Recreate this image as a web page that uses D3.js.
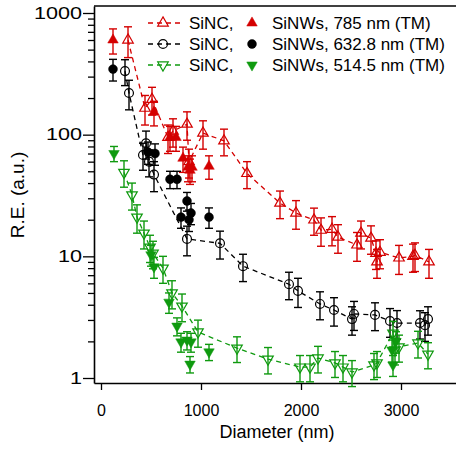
<!DOCTYPE html>
<html>
<head>
<meta charset="utf-8">
<script src="https://cdn.jsdelivr.net/npm/d3@7"></script>
<style>
  body { margin: 0; background: #fff; }
  svg text { font-family: "Liberation Sans", Arial, Helvetica, sans-serif; fill: #000; }
</style>
</head>
<body>
<script>
// SiNC 785 nm (open up-triangles, red)
const redOpenX = [270, 440, 510, 670, 720, 860, 880, 1020, 1230, 1460, 1790, 1950, 2130, 2200, 2310, 2370, 2560, 2600, 2700, 2750, 2760, 2790, 2980, 3120, 3140, 3280];
const redOpenY = [600, 165, 195, 95, 107, 122, 60, 103, 89, 48, 27.4, 22.7, 19.9, 16.4, 16.7, 14.4, 12.4, 15.5, 14.1, 10.6, 9.0, 10.8, 9.7, 10.0, 10.2, 9.0];
const redOpenErr = [170, 45, 50, 25, 28, 32, 16, 27, 22, 12, 7, 6, 5, 4.3, 4.5, 3.8, 3.3, 4, 3.7, 2.8, 2.4, 2.9, 2.6, 2.6, 2.7, 2.4];
// SiNWs 785 nm (filled up-triangles, red)
const redFillX = [120, 530, 690, 750, 820, 870, 890, 910, 1080];
const redFillY = [600, 153, 95, 95, 64, 54, 51, 54, 55];
const redFillErr = [140, 35, 22, 22, 15, 13, 12, 13, 12];

// SiNC 632.8 nm (open circles, black)
const blackOpenX = [240, 280, 420, 450, 480, 530, 860, 1190, 1420, 1880, 1970, 2190, 2330, 2510, 2530, 2740, 2890, 2960, 3190, 3240, 3270];
const blackOpenY = [333, 220, 68, 85, 60, 47, 13.9, 12.8, 8.3, 5.9, 5.2, 4.06, 3.62, 3.05, 3.36, 3.3, 2.94, 2.83, 2.83, 2.72, 3.05];
const blackOpenErr = [80, 60, 17, 22, 15, 13, 3.8, 3.3, 2.1, 1.5, 1.4, 1.05, 0.95, 0.8, 0.9, 0.85, 0.78, 0.75, 0.74, 0.72, 0.8];
// SiNWs 632.8 nm (filled circles, black)
const blackFillX = [120, 470, 540, 690, 760, 800, 860, 880, 900, 1080];
const blackFillY = [346, 72, 70, 43, 43, 21, 28.5, 20, 22.7, 21];
const blackFillErr = [70, 15, 14, 7, 7, 4, 5, 4, 4.5, 4];

// SiNC 514.5 nm (open down-triangles, green)
const greenOpenX = [230, 310, 360, 430, 490, 520, 620, 710, 810, 970, 1360, 1670, 1990, 2090, 2170, 2340, 2420, 2510, 2730, 2760, 2920, 2940, 2980, 3170, 3270];
const greenOpenY = [49, 32, 21, 15.5, 11.9, 10.6, 8.0, 5.0, 3.9, 2.39, 1.76, 1.43, 1.23, 1.23, 1.46, 1.33, 1.23, 1.12, 1.28, 1.33, 2.34, 1.70, 1.80, 1.94, 1.57];
const greenOpenErr = [12, 8, 5.5, 4, 3, 2.7, 2, 1.3, 1, 0.6, 0.42, 0.35, 0.3, 0.3, 0.36, 0.32, 0.3, 0.27, 0.31, 0.32, 0.58, 0.42, 0.45, 0.48, 0.38];
// SiNWs 514.5 nm (filled down-triangles, green)
const greenFillX = [130, 500, 530, 680, 760, 800, 860, 890, 900, 1080, 2910, 2920, 2950];
const greenFillY = [70, 10.3, 8.2, 4.2, 2.67, 1.98, 2.05, 1.30, 1.98, 1.64, 1.70, 1.28, 2.0];
const greenFillErr = [10, 2, 1.6, 0.8, 0.45, 0.35, 0.35, 0.2, 0.35, 0.25, 0.35, 0.25, 0.4];

const legendLabels = ["SiNWs, 785 nm (TM)", "SiNWs, 632.8 nm (TM)", "SiNWs, 514.5 nm (TM)"];
const xTicks = [0, 1000, 2000, 3000];
const yMajor = [1, 10, 100, 1000];

const RED = "#d40000", BLACK = "#000000", GREEN = "#0f9a0f";

const zip = (xs, ys, es) => xs.map((x, i) => ({ x, y: ys[i], e: es[i] }));

const series = [
  { open: zip(redOpenX, redOpenY, redOpenErr), fill: zip(redFillX, redFillY, redFillErr), color: RED, shape: "up" },
  { open: zip(blackOpenX, blackOpenY, blackOpenErr), fill: zip(blackFillX, blackFillY, blackFillErr), color: BLACK, shape: "circle" },
  { open: zip(greenOpenX, greenOpenY, greenOpenErr), fill: zip(greenFillX, greenFillY, greenFillErr), color: GREEN, shape: "down" }
];

const width = 456, height = 450;
const plotLeft = 94, plotRight = 456, plotTop = 6, plotBottom = 383;

const x = d3.scaleLinear().domain([0, 1000]).range([101, 201]);
x.domain([x.invert(plotLeft), x.invert(plotRight)]).range([plotLeft, plotRight]);

const y = d3.scaleLog().domain([1, 1000]).range([378, 13]);
y.domain([y.invert(plotBottom), y.invert(plotTop)]).range([plotBottom, plotTop]);

const svg = d3.select("body").append("svg")
  .attr("width", width)
  .attr("height", height);

// axes
const yTicks = [];
for (const d of [1, 10, 100]) for (let k = 1; k < 10; k++) yTicks.push(d * k);
yTicks.push(1000);

const yAxis = svg.append("g")
  .attr("transform", `translate(${plotLeft},0)`)
  .call(d3.axisLeft(y).tickValues(yTicks).tickSizeOuter(0).tickPadding(1)
    .tickFormat(d => yMajor.includes(d) ? d3.format("d")(d) : ""));
yAxis.selectAll(".tick line")
  .attr("x2", d => yMajor.includes(d) ? -11 : -6)
  .attr("stroke-width", 1.3);
// tick labels on this axis are drawn wide in the original
yAxis.selectAll(".tick text")
  .attr("x", -12 / 1.35)
  .attr("transform", "scale(1.35,1)")
  .style("font-size", "16px");
yAxis.select(".domain").attr("stroke-width", 1.6);

const xAxis = svg.append("g")
  .attr("transform", `translate(0,${plotBottom})`)
  .call(d3.axisBottom(x).tickValues(xTicks).tickSize(7).tickSizeOuter(0).tickPadding(15)
    .tickFormat(d3.format("d")));
xAxis.selectAll(".tick line").attr("stroke-width", 1.3);
xAxis.selectAll(".tick text").style("font-size", "16px");
xAxis.select(".domain").attr("stroke-width", 1.6);

svg.append("line")
  .attr("x1", plotLeft).attr("x2", plotRight)
  .attr("y1", plotTop).attr("y2", plotTop)
  .attr("stroke", "#000").attr("stroke-width", 1.6);

svg.append("text")
  .attr("x", 277).attr("y", 438)
  .attr("text-anchor", "middle")
  .style("font-size", "18px")
  .text("Diameter (nm)");

svg.append("text")
  .attr("transform", "translate(24,195) rotate(-90)")
  .attr("text-anchor", "middle")
  .style("font-size", "19px")
  .text("R.E. (a.u.)");

// markers
const triUp = d3.symbol().type(d3.symbolTriangle).size(48)();
const circ = d3.symbol().type(d3.symbolCircle).size(62)();

function drawMarker(g, shape, color, filled) {
  const p = g.append("path")
    .attr("d", shape === "circle" ? circ : triUp)
    .attr("fill", filled ? color : "none")
    .attr("stroke", color)
    .attr("stroke-width", filled ? 0.5 : 1.2);
  if (shape === "down") p.attr("transform", "rotate(180)");
  return p;
}

const line = d3.line().x(d => x(d.x)).y(d => y(d.y));
const plot = svg.append("g");

function drawPoints(data, s, filled) {
  const g = plot.append("g");
  const pts = g.selectAll("g").data(data).join("g");
  pts.append("line")
    .attr("x1", d => x(d.x)).attr("x2", d => x(d.x))
    .attr("y1", d => y(d.y + d.e)).attr("y2", d => y(Math.max(d.y - d.e, 0.5)))
    .attr("stroke", s.color).attr("stroke-width", 1.4);
  for (const end of [1, -1]) {
    pts.append("line")
      .attr("x1", d => x(d.x) - 4).attr("x2", d => x(d.x) + 4)
      .attr("y1", d => y(Math.max(d.y + end * d.e, 0.5)))
      .attr("y2", d => y(Math.max(d.y + end * d.e, 0.5)))
      .attr("stroke", s.color).attr("stroke-width", 1.4);
  }
  pts.each(function (d) {
    const m = d3.select(this).append("g").attr("transform", `translate(${x(d.x)},${y(d.y)})`);
    drawMarker(m, s.shape, s.color, filled);
  });
}

series.forEach(s => {
  plot.append("path")
    .datum(s.open)
    .attr("d", line)
    .attr("fill", "none")
    .attr("stroke", s.color)
    .attr("stroke-width", 1.3)
    .attr("stroke-dasharray", "5,4");
  drawPoints(s.open, s, false);
  drawPoints(s.fill, s, true);
});

// legend
const legend = svg.append("g");
series.forEach((s, i) => {
  const ly = 23 + i * 21;
  const row = legend.append("g").attr("transform", `translate(0,${ly})`);
  row.append("line")
    .attr("x1", 148).attr("x2", 180)
    .attr("stroke", s.color).attr("stroke-width", 1.3)
    .attr("stroke-dasharray", "5,4");
  drawMarker(row.append("g").attr("transform", "translate(163,0)"), s.shape, s.color, false);
  row.append("text").attr("x", 189).attr("y", 6).style("font-size", "17px").text("SiNC,");
  drawMarker(row.append("g").attr("transform", "translate(252,0)"), s.shape, s.color, true);
  row.append("text").attr("x", 272).attr("y", 6).style("font-size", "17px").text(legendLabels[i]);
});
</script>
</body>
</html>
